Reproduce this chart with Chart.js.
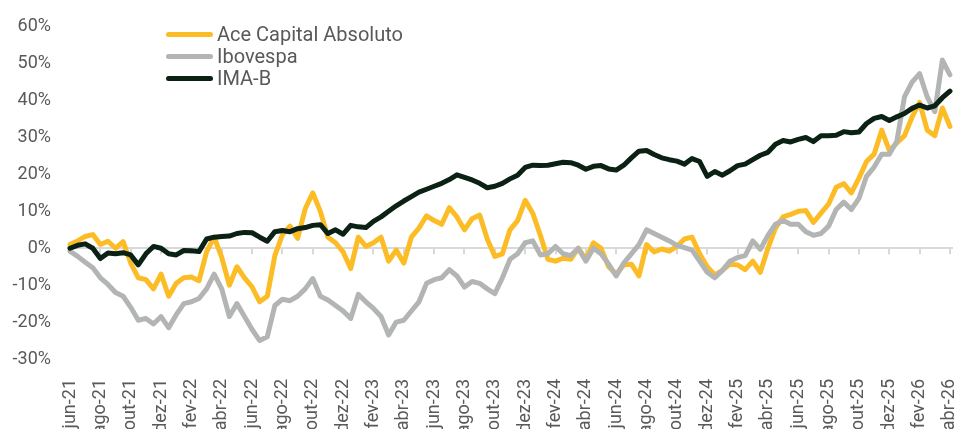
<!DOCTYPE html>
<html>
<head>
<meta charset="utf-8">
<script src="https://cdn.jsdelivr.net/npm/chart.js@4.4.1/dist/chart.umd.min.js"></script>
<style>
body { margin: 0; background: #fff; }
#wrap { position: relative; width: 957px; height: 429px; overflow: hidden; }
#legend { position: absolute; left: 166px; top: 23px; font-family: Roboto, sans-serif; font-size: 20px; color: #595959; }
.item { height: 22px; line-height: 22px; display: flex; align-items: center; white-space: nowrap; }
.swatch { width: 47px; height: 5px; border-radius: 3px; margin-right: 4px; }
</style>
</head>
<body>
<div id="wrap">
<canvas id="lineChart" width="957" height="429"></canvas>
<div id="legend"></div>
</div>
<script>
// x tick labels, one every two months (data is read at half-month steps)
var tickLabels = ["jun-21", "ago-21", "out-21", "dez-21", "fev-22", "abr-22", "jun-22", "ago-22", "out-22", "dez-22",
    "fev-23", "abr-23", "jun-23", "ago-23", "out-23", "dez-23", "fev-24", "abr-24", "jun-24", "ago-24",
    "out-24", "dez-24", "fev-25", "abr-25", "jun-25", "ago-25", "out-25", "dez-25", "fev-26", "abr-26"]

var seriesNames = ["Ace Capital Absoluto", "Ibovespa", "IMA-B"]
var seriesColors = ["#FCBC26", "#B3B5B5", "#0A2114"]

//data collected (% accumulated, every half month from jun-21)
var ace = [1.0, 2.0, 3.2, 3.7, 1.0, 1.9, 0, 1.8, -4.0, -8.0,
    -8.5, -11, -7, -13, -9.5, -8, -7.8, -8.8, -1, 3,
    -2.5, -10, -5, -8, -10.5, -14.5, -13, -2, 3.7, 6,
    2.7, 10.7, 15, 10, 3, 1.5, -1, -5.5, 3, 0.5,
    1.5, 3, -3.5, -0.5, -4, 3, 5.5, 8.8, 7.5, 6.5,
    11, 8.5, 5, 8, 9, 2.5, -2.2, -1.5, 5, 7.5,
    13, 9.5, 3.5, -3, -3.5, -2.7, -3, 0, -3, 1.5,
    0, -5, -7, -4.5, -4.3, -7.5, 1, -1, -0.2, -0.8,
    0.5, 2.5, 3, -1.5, -5, -7.2, -6, -4.3, -4.5, -5.8,
    -3.5, -6.5, 0, 5.5, 8.5, 9.2, 10, 10.2, 7, 9.5,
    12, 16.5, 17.5, 15, 19, 23.5, 25.5, 32, 26.5, 28.5,
    30.5, 35.5, 39.5, 32, 30.5, 38, 33]

var ibov = [-0.8, -2.2, -3.8, -5.3, -8, -9.8, -12, -13, -16, -19.5,
    -19, -20.5, -18.5, -21.5, -18, -15, -14.5, -13.6, -11, -7,
    -11, -18.5, -15, -18.5, -22, -25, -24, -15.5, -13.8, -14.2,
    -13, -11, -8.2, -13, -14, -15.5, -17, -19, -12.5, -14.5,
    -16.3, -18.5, -23.5, -20, -19.5, -17, -14.5, -9.5, -8.5, -8,
    -5.8, -7.5, -10.5, -9, -9.5, -11, -12.3, -8, -3, -1.5,
    1.5, 2, -1.8, -1.5, 0.5, -1.5, -2, 0, -3.5, 0,
    -1.5, -4.3, -7.5, -4, -1.5, 1, 5, 4, 3, 2,
    0.8, 0.2, -0.5, -3.5, -6.5, -8, -6, -3.5, -2.5, -2,
    2, -0.3, 3.5, 6.5, 7.5, 6.5, 6.5, 4.5, 3.5, 4,
    6, 10.5, 12.5, 10.5, 13.5, 19.5, 22, 25.5, 25.5, 29,
    41, 45, 47.3, 41, 37, 51, 47]

var imab = [0, 0.8, 1.2, 0, -2.8, -1.3, -1.5, -1.2, -1.8, -4.5,
    -1.5, 0.5, 0, -1.5, -1.8, -0.6, -0.7, -0.9, 2.5, 3,
    3.2, 3.3, 4, 4.3, 4.2, 3, 1.9, 4.5, 4.8, 4.5,
    5.3, 5.6, 6.2, 6.4, 4, 5, 3.8, 6.2, 5.8, 5.6,
    7.3, 8.5, 10, 11.5, 12.8, 14, 15.2, 16, 16.8, 17.6,
    18.6, 19.9, 19.2, 18.5, 17.6, 16.4, 16.8, 17.6, 18.8, 19.8,
    21.9, 22.5, 22.4, 22.5, 22.9, 23.3, 23.2, 22.5, 21.4, 22.2,
    22.4, 21.5, 21.2, 22.5, 24.5, 26.3, 26.5, 25.4, 24.5, 24,
    23.6, 22.8, 24.3, 23.5, 19.5, 20.8, 19.8, 21, 22.4, 22.8,
    24, 25.2, 26, 28.2, 29.2, 28.8, 29.5, 30, 28.9, 30.5,
    30.5, 30.6, 31.6, 31.3, 31.5, 33.8, 35.2, 35.7, 34.6, 35.6,
    36.5, 37.9, 38.8, 38, 38.6, 40.8, 42.6]

function toPoints(values) {
    return values.map(function (v, i) { return { x: i * 0.5, y: v } })
}

// small gray marks on the zero line, one per x tick
var zeroTicks = {
    id: "zeroTicks",
    beforeDatasetsDraw: function (chart) {
        var ctx = chart.ctx
        var xs = chart.scales.x
        var y0 = chart.scales.y.getPixelForValue(0)
        ctx.save()
        ctx.strokeStyle = "#D9D9D9"
        ctx.lineWidth = 2
        xs.ticks.forEach(function (t) {
            var px = Math.round(xs.getPixelForValue(t.value))
            ctx.beginPath()
            ctx.moveTo(px, y0)
            ctx.lineTo(px, y0 + 6)
            ctx.stroke()
        })
        ctx.restore()
    }
}

var allSeries = [ace, ibov, imab]
var datasets = allSeries.map(function (s, k) {
    return {
        label: seriesNames[k],
        data: toPoints(s),
        borderColor: seriesColors[k],
        borderWidth: 5,
        pointRadius: 0,
        tension: 0,
        borderJoinStyle: "round",
        borderCapStyle: "round",
        order: 3 - k
    }
})

var tickFont = { family: "Roboto", size: 18 }
var myChart = document.getElementById("lineChart").getContext("2d")
var chart = new Chart(myChart, {
    type: "line",
    data: { datasets: datasets },
    plugins: [zeroTicks],
    options: {
        responsive: false,
        animation: false,
        layout: { padding: { top: 22, right: 4, left: 0, bottom: 0 } },
        plugins: {
            legend: { display: false },
            tooltip: { enabled: false }
        },
        scales: {
            x: {
                type: "linear",
                min: -0.2,
                max: 58.2,
                grid: { display: false },
                border: { display: false },
                afterFit: function (s) {
                    s.height = 70
                    s.paddingLeft = 0
                    s.paddingRight = 0
                },
                ticks: {
                    stepSize: 2,
                    includeBounds: false,
                    autoSkip: false,
                    minRotation: 90,
                    maxRotation: 90,
                    padding: 12,
                    color: "#595959",
                    font: tickFont,
                    callback: function (v) { return tickLabels[Math.round(v / 2)] }
                }
            },
            y: {
                min: -30,
                max: 60,
                border: { display: false },
                afterFit: function (s) { s.width = 67 },
                grid: {
                    drawTicks: false,
                    lineWidth: 2,
                    color: function (c) { return c.tick && c.tick.value === 0 ? "#D9D9D9" : "rgba(0,0,0,0)" }
                },
                ticks: {
                    stepSize: 10,
                    padding: 16,
                    color: "#595959",
                    font: tickFont,
                    callback: function (v) { return v + "%" }
                }
            }
        }
    }
})

// legend as html, same order as the picture
var legend = document.getElementById("legend")
seriesNames.forEach(function (name, k) {
    var row = document.createElement("div")
    row.className = "item"
    var sw = document.createElement("span")
    sw.className = "swatch"
    sw.style.background = seriesColors[k]
    row.appendChild(sw)
    row.appendChild(document.createTextNode(name))
    legend.appendChild(row)
})
</script>
</body>
</html>
